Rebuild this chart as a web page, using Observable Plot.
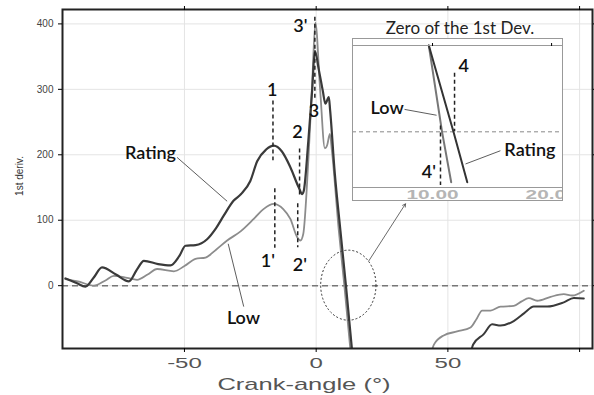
<!DOCTYPE html>
<html><head><meta charset="utf-8">
<script src="https://cdn.jsdelivr.net/npm/d3@7"></script>
<script src="https://cdn.jsdelivr.net/npm/@observablehq/plot@0.6"></script>
<style>
body{margin:0;background:#fff;}
#wrap{position:relative;width:594px;height:395px;overflow:hidden;font-family:"Liberation Sans",Arial,sans-serif;background:#fff;}
#main{position:absolute;left:0;top:0;}
#inset{position:absolute;left:352px;top:38px;width:211px;height:163px;background:#fff;}
#insetBorder{position:absolute;left:352px;top:38px;width:211px;height:163px;border:1px solid #999;box-sizing:border-box;pointer-events:none;}
#insetTitle{position:absolute;left:360px;top:18px;width:200px;line-height:20px;text-align:center;font-family:Lato,"Open Sans",sans-serif;font-size:17px;color:#222;}
#xlab{position:absolute;left:204px;top:375px;width:200px;line-height:20px;text-align:center;font-size:17px;color:#555;transform:scaleX(1.5);}
#ylab{position:absolute;left:-20px;top:166px;width:80px;line-height:20px;text-align:center;font-size:10px;color:#333;transform:rotate(-90deg);}
</style></head><body>
<div id="wrap">
  <div id="main"></div>
  <div id="inset"></div>
  <div id="insetBorder"></div>
  <div id="insetTitle">Zero of the 1st Dev.</div>
  <div id="xlab">Crank-angle (°)</div>
  <div id="ylab">1st deriv.</div>
</div>
<script>
// ---- main series (crank angle in degrees, 1st derivative) ----
const ratingX = [-95.2,-91,-87.6,-84.5,-81.3,-76,-71.1,-68,-65.4,-60,-55.3,-52,-49.6,-45.8,-41.4,-38,-35.1,-31.3,-28.5,-25,-22.4,-19,-16.1,-13,-9.8,-6.6,-5.3,-4.7,-3,-1.5,-0.5,1,2.5,3.5,4.8,5.3,7,9.2,11.3,14];
const ratingY = [11,4,-1.5,12,28,17,6.6,25,38,33,31,45,61,62,71,88,107,130,140,160,190,208,214,205,181,150,140,145,220,300,359,330,298,278,288,268,175,84,0,-115];
const lowX = [-95.2,-90,-84.4,-80,-76.8,-71.8,-68,-64,-60.4,-54,-50,-45.8,-42,-38,-33.8,-28.7,-23.7,-20,-16.1,-12.5,-9.8,-7.2,-6,-4.9,-3,-1.5,-0.3,1.5,3.3,4.2,5.2,6,8.6,10.7,13.4];
const lowY = [10,6,0,8,15,12,9,17,25.5,22,30,41,43,55,69,83,102,117,125,117,102,74,69,79,190,310,402,300,210,215,232,205,84,0,-115];
const ratingX2 = [58,59.6,63.6,66.8,70,75,79,82.6,87.7,94,97.8,101.6];
const ratingY2 = [-115,-90,-74,-59,-61,-54,-42,-32,-32,-25.5,-19,-19.5];
const lowX2 = [43,44.7,48.4,53.5,58.6,61,63,66.2,70,75,78,80.7,83.9,89,94,97.2,101.6];
const lowY2 = [-115,-90,-76,-70,-64,-50,-38,-38,-32,-31,-24,-19,-23,-17,-13,-15,-7.6];

// ---- axes ----
const xTicks = [-50,0,50,100];
const xTickLabels = ["-50","0","50",""];
const yTicks = [0,100,200,300,400];

// ---- annotations ----
const labelText = ["Rating","Low","1","1'","2","2'","3'","3"];
const labelX = [-62.9,-27.6,-16.7,-18.3,-7.1,-6.2,-6,-0.8];
const labelY = [203,-50,298,38,235,31,396,267];
const markX = [-16.4,-15.7,-6.3,-7,-0.5];
const markY1 = [282,148,209,125,410];
const markY2 = [191,57,134,58,285];
const leadX1 = [-52.8,-27.5], leadY1 = [196,-32], leadX2 = [-33.8,-33.4], leadY2 = [129,64];
const ellipseCenter = [12.4,0], ellipseRadius = [10.5,53.5];
const arrowFrom = [20,38], arrowTo = [33.9,125];

// ---- inset ----
const insetLowX = [9.69,10.8,11.57], insetLowY = [62,0,-36.2];
const insetRatX = [9.69,11.76,12.92], insetRatY = [62,0,-36.2];
const insetTicks = [10,20];
const insetMarkX = [11.85,10.67], insetMarkY1 = [42,4.2], insetMarkY2 = [0,-38.6];
const insetText = ["4","4'","Low","Rating"], insetTextX = [12.63,9.69,6.19,18.18], insetTextY = [47,-29,16.8,-13.1];
const insetLeadX1 = [7.65,15.7], insetLeadY1 = [16.1,-13.6], insetLeadX2 = [10.34,12.77], insetLeadY2 = [11.9,-23.1];

const idx = a => a.map((_, i) => i);
const DARK = "#3a3a3a", LIGHT = "#8c8c8c";
const FONT = "Lato, 'Open Sans', sans-serif";

const main = Plot.plot({
  width: 594, height: 395,
  marginLeft: 62, marginRight: 2, marginTop: 9, marginBottom: 47,
  x: {domain: [-96.3, 104.9]},
  y: {domain: [-96, 422]},
  style: {fontFamily: "'Liberation Sans', Arial, sans-serif", background: "transparent"},
  marks: [
    Plot.gridX(xTicks, {stroke: "#e4e4e4", strokeOpacity: 1}),
    Plot.gridY(yTicks, {stroke: "#e4e4e4", strokeOpacity: 1}),
    Plot.ruleY([0], {stroke: "#777", strokeWidth: 1.5, strokeDasharray: "6,4"}),
    Plot.line(idx(lowX), {x: i => lowX[i], y: i => lowY[i], stroke: LIGHT, strokeWidth: 1.8, curve: "monotone-x", clip: true}),
    Plot.line(idx(lowX2), {x: i => lowX2[i], y: i => lowY2[i], stroke: LIGHT, strokeWidth: 1.8, curve: "monotone-x", clip: true}),
    Plot.line(idx(ratingX), {x: i => ratingX[i], y: i => ratingY[i], stroke: DARK, strokeWidth: 2.2, curve: "monotone-x", clip: true}),
    Plot.line(idx(ratingX2), {x: i => ratingX2[i], y: i => ratingY2[i], stroke: DARK, strokeWidth: 2, curve: "monotone-x", clip: true}),
    Plot.ruleX(idx(markX), {x: i => markX[i], y1: i => markY1[i], y2: i => markY2[i], stroke: "#222", strokeWidth: 1.5, strokeDasharray: "4,3"}),
    Plot.link(idx(leadX1), {x1: i => leadX1[i], y1: i => leadY1[i], x2: i => leadX2[i], y2: i => leadY2[i], stroke: "#333", strokeWidth: 0.8}),
    Plot.arrow([0], {x1: () => arrowFrom[0], y1: () => arrowFrom[1], x2: () => arrowTo[0], y2: () => arrowTo[1], stroke: "#444", strokeWidth: 0.8, headLength: 6}),
    Plot.text(idx(labelText), {x: i => labelX[i], y: i => labelY[i], text: i => labelText[i], fontFamily: FONT, fontSize: 18, fontWeight: 600, fill: "#111"}),
    Plot.frame({stroke: "#222", strokeWidth: 2}),
    Plot.axisX(xTicks, {anchor: "bottom", tickSize: 4, tickPadding: 5, fontSize: 15, tickFormat: (d) => xTickLabels[xTicks.indexOf(d)], label: null}),
    Plot.axisX(xTicks, {anchor: "top", tickSize: 4, tickFormat: () => "", label: null}),
    Plot.axisY(yTicks, {anchor: "left", tickSize: 4, tickPadding: 5, fontSize: 10, label: null}),
    Plot.axisY(yTicks, {anchor: "right", tickSize: 4, tickFormat: () => "", label: null})
  ]
});
document.getElementById("main").appendChild(main);

// horizontally stretch axis tick labels about their own centre (wrap each in a scaled group)
function stretch(svg, sel, s) {
  const nodes = Array.from(svg.querySelectorAll(sel));
  nodes.forEach(node => {
    if (!node.textContent) return;
    const parent = node.parentNode;
    const bb = node.getBBox();
    const c = svg.createSVGPoint();
    c.x = bb.x + bb.width / 2; c.y = bb.y + bb.height / 2;
    const m = parent.getCTM().inverse().multiply(node.getCTM());
    const p = c.matrixTransform(m);
    const g = document.createElementNS("http://www.w3.org/2000/svg", "g");
    g.setAttribute("transform", `translate(${p.x},${p.y}) scale(${s},1) translate(${-p.x},${-p.y})`);
    parent.insertBefore(g, node);
    g.appendChild(node);
  });
}
stretch(main, 'g[aria-label^="x-axis tick label"] text', 1.6);
d3.select(main).selectAll('g[aria-label^="x-axis tick label"]').attr("fill", "#555");
d3.select(main).selectAll('g[aria-label^="y-axis tick label"]').attr("fill", "#444");

// dotted ellipse around the zero crossing, positioned with the plot's scales
const sx = main.scale("x"), sy = main.scale("y");
const ecx = sx.apply(ellipseCenter[0]), ecy = sy.apply(ellipseCenter[1]);
d3.select(main).append("ellipse")
  .attr("cx", ecx).attr("cy", ecy)
  .attr("rx", Math.abs(sx.apply(ellipseCenter[0] + ellipseRadius[0]) - ecx))
  .attr("ry", Math.abs(sy.apply(ellipseCenter[1] + ellipseRadius[1]) - ecy))
  .attr("fill", "none").attr("stroke", "#333").attr("stroke-width", 1).attr("stroke-dasharray", "2,2");

const inset = Plot.plot({
  width: 211, height: 163,
  marginLeft: 0, marginRight: 0, marginTop: 7, marginBottom: 14,
  x: {domain: [3.28, 21.0]},
  y: {domain: [-40, 62]},
  style: {fontFamily: "'Liberation Sans', Arial, sans-serif", background: "#fff"},
  marks: [
    Plot.ruleY([0], {stroke: "#888", strokeWidth: 1, strokeDasharray: "4,3"}),
    Plot.line(idx(insetLowX), {x: i => insetLowX[i], y: i => insetLowY[i], stroke: "#777", strokeWidth: 2}),
    Plot.line(idx(insetRatX), {x: i => insetRatX[i], y: i => insetRatY[i], stroke: "#333", strokeWidth: 2}),
    Plot.ruleX(idx(insetMarkX), {x: i => insetMarkX[i], y1: i => insetMarkY1[i], y2: i => insetMarkY2[i], stroke: "#222", strokeWidth: 1.5, strokeDasharray: "4,3"}),
    Plot.link(idx(insetLeadX1), {x1: i => insetLeadX1[i], y1: i => insetLeadY1[i], x2: i => insetLeadX2[i], y2: i => insetLeadY2[i], stroke: "#333", strokeWidth: 0.8}),
    Plot.text(idx(insetText), {x: i => insetTextX[i], y: i => insetTextY[i], text: i => insetText[i], fontFamily: FONT, fontSize: 18, fontWeight: 600, fill: "#111"}),
    Plot.frame({stroke: "#999", strokeWidth: 1}),
    Plot.axisX(insetTicks, {anchor: "bottom", tickSize: 0, tickPadding: 2, fontSize: 13, fontWeight: "bold", tickFormat: d3.format(".2f"), label: null}),
    Plot.axisX(insetTicks, {anchor: "top", tickSize: 3, tickFormat: () => "", label: null})
  ]
});
document.getElementById("inset").appendChild(inset);
stretch(inset, 'g[aria-label^="x-axis tick label"] text', 1.6);
d3.select(inset).selectAll('g[aria-label^="x-axis tick label"]').attr("fill", "#b5b5b5");
</script>
</body></html>
